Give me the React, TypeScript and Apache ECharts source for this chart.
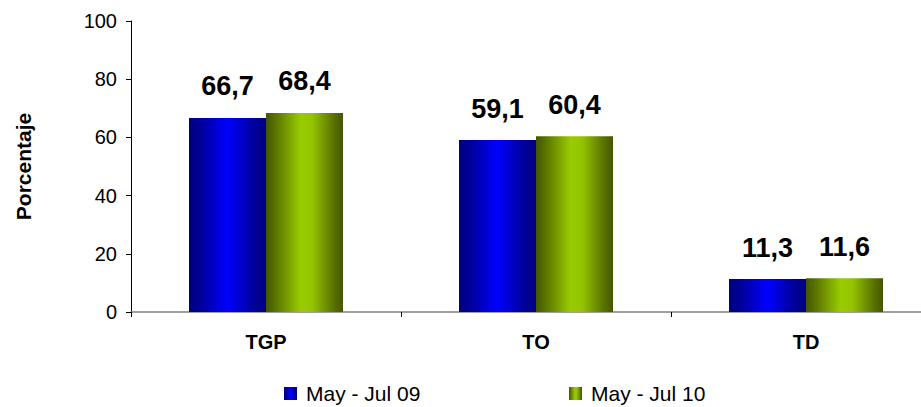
import React, { useEffect, useRef } from "react";
import * as echarts from "echarts";

const categories = ["TGP", "TO", "TD"];
const series09 = [66.7, 59.1, 11.3];
const series10 = [68.4, 60.4, 11.6];
const seriesNames = ["May - Jul 09", "May - Jul 10"];
const yTicks = [0, 20, 40, 60, 80, 100];

const blueGrad = new echarts.graphic.LinearGradient(0, 0, 1, 0, [
  { offset: 0, color: "#000080" },
  { offset: 0.15, color: "#00009a" },
  { offset: 0.5, color: "#0000ff" },
  { offset: 0.85, color: "#00009a" },
  { offset: 1, color: "#000080" },
]);
const greenGrad = new echarts.graphic.LinearGradient(0, 0, 1, 0, [
  { offset: 0, color: "#435600" },
  { offset: 0.15, color: "#5f7a00" },
  { offset: 0.45, color: "#99cc00" },
  { offset: 0.6, color: "#94c400" },
  { offset: 0.88, color: "#5a7200" },
  { offset: 1, color: "#435600" },
]);

const FONT = "Liberation Sans, Arial, sans-serif";

export default function App() {
  const ref = useRef<HTMLDivElement>(null);
  useEffect(() => {
    if (!ref.current) return;
    const chart = echarts.init(ref.current, null, { renderer: "svg" });
    const labelStyle = {
      show: true,
      position: "top",
      distance: 18,
      fontSize: 27,
      fontWeight: "bold",
      color: "#000",
      fontFamily: FONT,
      formatter: (p: any) => String(p.value.toFixed(1)).replace(".", ","),
    };
    const legendCommon = {
      top: 383,
      padding: 0,
      itemWidth: 13,
      itemHeight: 13,
      icon: "rect",
      textStyle: { fontSize: 21, color: "#000", fontFamily: FONT, padding: [0, 0, 0, 4] },
    };
    chart.setOption({
      animation: false,
      textStyle: { fontFamily: FONT },
      grid: { left: 131, top: 21, width: 810, height: 291, outerBoundsMode: "none", containLabel: false },
      legend: [
        { ...legendCommon, data: [seriesNames[0]], left: 284 },
        { ...legendCommon, data: [seriesNames[1]], left: 569 },
      ],
      xAxis: {
        type: "category",
        data: categories,
        axisLine: { lineStyle: { color: "#808080", width: 1.5 } },
        axisTick: { show: true, length: 5, lineStyle: { color: "#000" } },
        axisLabel: { fontSize: 20, fontWeight: "bold", color: "#000", margin: 20, fontFamily: FONT },
      },
      yAxis: {
        type: "value",
        min: yTicks[0],
        max: yTicks[yTicks.length - 1],
        interval: 20,
        name: "Porcentaje",
        nameLocation: "middle",
        nameGap: 97,
        nameTextStyle: { fontSize: 21, fontWeight: "bold", color: "#000", fontFamily: FONT },
        axisLine: { show: true, lineStyle: { color: "#000" } },
        axisTick: { show: true, length: 5, lineStyle: { color: "#000" } },
        axisLabel: { fontSize: 20, color: "#000", margin: 14, fontFamily: FONT },
        splitLine: { show: false },
      },
      series: [
        {
          name: seriesNames[0],
          type: "bar",
          data: series09,
          barWidth: 77,
          barGap: "0%",
          itemStyle: { color: blueGrad },
          label: labelStyle,
        },
        {
          name: seriesNames[1],
          type: "bar",
          data: series10,
          barWidth: 77,
          itemStyle: { color: greenGrad },
          label: labelStyle,
        },
      ],
    });
    return () => chart.dispose();
  }, []);
  return (
    <div
      ref={ref}
      style={{ position: "fixed", left: 0, top: 0, width: 921, height: 407, background: "#fff" }}
    />
  );
}
